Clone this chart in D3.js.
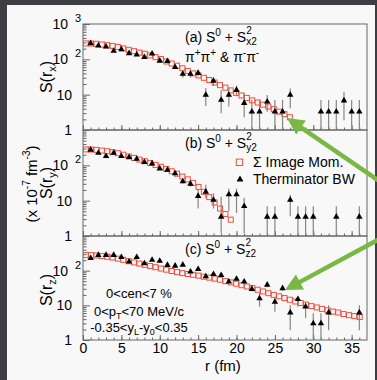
<!DOCTYPE html>
<html><head><meta charset="utf-8">
<script src="https://cdn.jsdelivr.net/npm/d3@7"></script>
<style>body{margin:0;background:#3c3e43;}svg{display:block}</style>
</head><body>
<svg id="c" width="377" height="380"></svg>
<script>
const FONT = "'Liberation Sans', Arial, Helvetica, sans-serif";

// ---------- data ----------
const xTicks = [0, 5, 10, 15, 20, 25, 30, 35];
const xMinor = [0,1,2,3,4,5,6,7,8,9,10,11,12,13,14,15,16,17,18,19,20,21,22,23,24,25,26,27,28,29,30,31,32,33,34,35,36];
const yDecades = [1, 10, 100, 1000];
const yMinor = [2,3,4,5,6,7,8,9,20,30,40,50,60,70,80,90,200,300,400,500,600,700,800,900];

// image-moment r grid
const rMom = [0.35,1.05,1.75,2.45,3.15,3.85,4.55,5.25,5.95,6.65,7.35,8.05,8.75,9.45,10.15,10.85,11.55,12.25,12.95,13.65,14.35,15.05,15.75,16.45,17.15,17.85,18.55,19.25,19.95,20.65,21.35,22.05,22.75,23.45,24.15,24.85,25.55,26.25,26.95,27.65,28.35,29.05,29.75,30.45,31.15,31.85,32.55,33.25,33.95,34.65,35.35,36.05];
const momA = [282,280,275,263,251,240,224,204,186,170,155,144,129,115,102,87,76,66,56,47,40,35,30,26,22,18.6,15.8,13.2,11.2,9.5,8.1,6.9,6.0,5.2,4.6,3.9,3.3,2.8,2.3];
const momB = [282,280,274,262,250,236,220,200,178,162,145,131,117,103,91,79,68,58,48,40,32,24.5,17.8,12.6,8.9,6.0,4.2,2.9];
const momC = [282,280,274,264,252,239,222,205,187,173,160,147,136,126,115,107,98,91,85,80,76,72,67,63,59,55,50,46,42,38,35,31.6,28.2,25.1,22.4,20.0,18.2,16.2,14.5,12.9,11.7,10.5,9.5,8.7,7.9,7.2,6.6,6.2,5.6,5.2,4.9,4.6];

// Therminator BW points
const triRA = [1,2,3,4,5,6,7,8,9,10,11,12,13,14,15,16,17,18,19,20,21,22,23,24,25,26,27,31,32,33,34,35,36];
const triVA = [284,244,229,172,192,148,136,115,144,91,89,60,38.5,38.5,41,9.8,24.4,7.1,9.8,13.5,5.8,3.3,3.3,6.3,3.3,3.3,9.8,3.3,3.3,3.3,6.8,3.3,3.3];
const triLoA = [272,233,218,163,182,140,128,108,135,84,81,52,30,30,33,4.8,18,3,4.6,9,2.3,0.1,0.1,3.3,0.1,0.1,4.1,0.1,0.1,0.1,1.9,0.1,0.1];
const triHiA = [296,255,240,181,202,156,144,122,153,98,97,69,48,48,50,15.5,31,13.5,15.5,18,11,7.1,7.1,9.8,7.1,7.1,15,7.1,7.1,7.1,12,7.1,7.1];

const triRB = [1,2,3,4,5,6,7,8,9,10,11,12,13,14,15,16,17,18,19,20,21,24,25,27,28,29,30,33,36];
const triVB = [275,224,182,224,182,170,151,123,112,81,74,59,35,30,13.5,17.8,10.5,3.5,15,15,7,3.5,3.5,10.5,3.5,3.5,3.5,3.5,3.5];
const triLoB = [263,214,173,214,173,161,143,116,105,75,68,53,30,25,6,11.7,6,1.2,5,4.5,1.2,0.1,0.1,3.6,0.1,0.1,0.1,0.1,0.1];
const triHiB = [287,234,191,234,191,179,159,130,119,87,80,65,40,35,20,28,16,13,22,22,12,6.9,6.9,14.8,6.9,6.9,6.9,6.9,6.9];

const triRC = [1,2,3,4,5,6,7,8,9,10,11,12,13,14,15,16,17,18,19,20,21,22,23,24,25,26,27,28,29,30,31,32,36];
const triVC = [229,282,282,282,245,182,245,162,204,190,145,138,148,93,110,68,79,74,48,58,48,29.5,15.8,39,12.6,31,6.2,15,9.1,3.0,3.0,6.2,6.2];
const triLoC = [220,271,271,271,235,175,235,155,196,182,138,131,140,88,104,63,74,69,44,53,44,25,9.1,33,6.5,26,1.9,9.1,4.3,0.1,0.1,1.9,1.9];
const triHiC = [238,293,293,293,255,189,255,169,212,198,152,145,156,98,116,73,84,79,52,63,52,35,22.7,46,17.8,37,10,17.8,12.7,5.9,5.9,10,10];

// ---------- drawing ----------
const svg = d3.select("#c");
svg.append("rect").attr("width",377).attr("height",380).attr("fill","#3c3e43");
svg.append("rect").attr("x",7).attr("y",5).attr("width",368).attr("height",375).attr("fill","#f8f8f8");

const RED = "#f04e3c", FRAME = "#666", ERR = "#8a857d";
const x = d3.scaleLinear().domain([0,37]).range([83,367]);

function rich(g, x0, y0, parts, anchor) {
  let cx = x0; const nodes = [];
  const mk = (q) => {
    const t = g.append("text").attr("x",cx).attr("y",y0+(q.dy||0))
      .attr("font-size",q.s).attr("font-family",FONT).attr("fill","#000").text(q.t);
    nodes.push(t); return t.node().getComputedTextLength();
  };
  parts.forEach(p => {
    if (p.stack) { let w = 0; p.stack.forEach(q => { w = Math.max(w, mk(q)); }); cx += w; }
    else cx += mk(p);
  });
  if (anchor) {
    const tot = cx - x0, sh = anchor === "middle" ? -tot/2 : -tot;
    nodes.forEach(n => n.attr("x", +n.attr("x") + sh));
  }
}
const NB = "\u00A0";

const panels = [
  {key:"a", top:24, bot:130, mom:momA, tr:triRA, tv:triVA, lo:triLoA, hi:triHiA, labels:[1000,100,10,1]},
  {key:"b", top:130, bot:236, mom:momB, tr:triRB, tv:triVB, lo:triLoB, hi:triHiB, labels:[100,10,1]},
  {key:"c", top:236, bot:340, mom:momC, tr:triRC, tv:triVC, lo:triLoC, hi:triHiC, labels:[100,10,1]}
];

panels.forEach((p, i) => {
  const y = d3.scaleLog().domain([1,1000]).range([p.bot, p.top]).clamp(true);
  const g = svg.append("g");
  const cid = "clip" + p.key;
  svg.append("clipPath").attr("id",cid).append("rect")
    .attr("x",x(0)).attr("y",p.top).attr("width",x(37)-x(0)).attr("height",p.bot-p.top);

  // ticks
  const ax1 = g.append("g").attr("transform",`translate(0,${p.bot})`)
    .call(d3.axisBottom(x).tickValues(xMinor).tickSize(-2.5).tickFormat(""));
  const ax2 = g.append("g").attr("transform",`translate(0,${p.bot})`)
    .call(d3.axisBottom(x).tickValues(xTicks).tickSize(-5).tickPadding(3)
      .tickFormat(p.key === "c" ? d => d : ""));
  const ay1 = g.append("g").attr("transform",`translate(${x(0)},0)`)
    .call(d3.axisLeft(y).tickValues(yMinor).tickSize(-3.5).tickFormat(""));
  const ay2 = g.append("g").attr("transform",`translate(${x(0)},0)`)
    .call(d3.axisLeft(y).tickValues(yDecades).tickSize(-7).tickFormat(""));
  [ax1,ax2,ay1,ay2].forEach(a => {
    a.select(".domain").remove();
    a.selectAll("line").attr("stroke",FRAME).attr("stroke-width",1);
    a.selectAll("text").attr("font-family",FONT).attr("font-size",14).attr("fill","#000");
  });

  // frame
  g.append("rect").attr("x",x(0)).attr("y",p.top).attr("width",x(37)-x(0)).attr("height",p.bot-p.top)
    .attr("fill","none").attr("stroke",FRAME).attr("stroke-width",1);

  // y labels
  p.labels.forEach(v => {
    const yy = y(v) + 5;
    if (v < 100) {
      g.append("text").attr("x",72).attr("y",yy).attr("text-anchor","end")
        .attr("font-family",FONT).attr("font-size",14).text(v);
    } else {
      g.append("text").attr("x",68).attr("y",yy).attr("text-anchor","end")
        .attr("font-family",FONT).attr("font-size",14).text("10");
      g.append("text").attr("x",75).attr("y",yy-7).attr("font-family",FONT)
        .attr("font-size",11).text(Math.round(Math.log10(v)));
    }
  });

  const m = g.append("g").attr("clip-path",`url(#${cid})`);
  // image moment squares
  m.selectAll("rect.mom").data(p.mom).join("rect").attr("class","mom")
    .attr("x",(d,k) => x(rMom[k]) - 2.5).attr("y",d => y(d) - 2.5)
    .attr("width",5).attr("height",5).attr("fill","none")
    .attr("stroke",RED).attr("stroke-width",1);
  // error bars
  m.selectAll("line.err").data(p.tv).join("line").attr("class","err")
    .attr("x1",(d,k) => x(p.tr[k])).attr("x2",(d,k) => x(p.tr[k]))
    .attr("y1",(d,k) => y(p.lo[k])).attr("y2",(d,k) => y(p.hi[k]))
    .attr("stroke",ERR).attr("stroke-width",1.2);
  // triangles
  const tri = d3.symbol(d3.symbolTriangle, 18);
  m.selectAll("path.tri").data(p.tv).join("path").attr("class","tri")
    .attr("d",tri).attr("transform",(d,k) => `translate(${x(p.tr[k])},${y(d)})`)
    .attr("fill","#000");
});

// y axis titles
const t1 = svg.append("g").attr("transform","translate(52,77) rotate(-90)");
rich(t1, 0, 0, [{t:"S(r",s:16},{t:"x",s:11,dy:4},{t:")",s:16}], "middle");
const t2 = svg.append("g").attr("transform","translate(52,183) rotate(-90)");
rich(t2, 0, 0, [{t:"S(r",s:16},{t:"y",s:11,dy:4},{t:")",s:16}], "middle");
const t2b = svg.append("g").attr("transform","translate(37,184) rotate(-90)");
rich(t2b, 0, 0, [{t:"(x"+NB+"10",s:15},{t:"-7",s:10,dy:-7},{t:NB+"fm",s:15},{t:"-3",s:10,dy:-7},{t:")",s:15}], "middle");
const t3 = svg.append("g").attr("transform","translate(52,290) rotate(-90)");
rich(t3, 0, 0, [{t:"S(r",s:16},{t:"z",s:11,dy:4},{t:")",s:16}], "middle");

// x title
svg.append("text").attr("x",205).attr("y",371).attr("font-family",FONT).attr("font-size",15).text("r (fm)");

// panel titles
const sub = ["x2","y2","z2"], tb = [42,148,254], nm = ["(a)","(b)","(c)"];
[0,1,2].forEach(i => {
  rich(svg, 185, tb[i], [
    {t:nm[i]+NB+"S",s:14},{t:"0",s:10,dy:-6},{t:NB+"+"+NB+"S",s:14},
    {stack:[{t:"2",s:10,dy:-8},{t:sub[i],s:10,dy:3}]}
  ]);
});
rich(svg, 185, 62, [
  {t:"π",s:14},{t:"+",s:10,dy:-6},{t:"π",s:14},{t:"+",s:10,dy:-6},
  {t:NB+"&"+NB+"π",s:14},{t:"-",s:10,dy:-6},{t:"π",s:14},{t:"-",s:10,dy:-6}
]);

// legend
svg.append("rect").attr("x",239.5-3.2).attr("y",162.3-3.2).attr("width",6.4).attr("height",6.4)
  .attr("fill","none").attr("stroke",RED).attr("stroke-width",1);
svg.append("path").attr("d",d3.symbol(d3.symbolTriangle,20)).attr("transform","translate(240,179.5)").attr("fill","#000");
svg.append("text").attr("x",253).attr("y",167).attr("font-family",FONT).attr("font-size",14).text("Σ Image Mom.");
svg.append("text").attr("x",253).attr("y",184).attr("font-family",FONT).attr("font-size",14).text("Therminator BW");

// cut text
rich(svg, 139, 297.5, [{t:"0<cen<7"+NB+"%",s:13}], "middle");
rich(svg, 139, 315.5, [{t:"0<p",s:13},{t:"T",s:9,dy:3},{t:"<70"+NB+"MeV/c",s:13}], "middle");
rich(svg, 139, 331.5, [{t:"-0.35<y",s:13},{t:"L",s:9,dy:3},{t:"-y",s:13},{t:"0",s:9,dy:3},{t:"<0.35",s:13}], "middle");

// green arrows
function arrow(tx, ty, hx, hy) {
  const dx = hx - tx, dy = hy - ty, L = Math.hypot(dx,dy), ux = dx/L, uy = dy/L;
  const HL = 17, HW = 8.5;
  const bx = hx - ux*HL, by = hy - uy*HL;
  svg.append("line").attr("x1",tx).attr("y1",ty).attr("x2",bx+ux*2).attr("y2",by+uy*2)
    .attr("stroke","#79b845").attr("stroke-width",4.5);
  svg.append("path").attr("d",`M${hx},${hy}L${bx-uy*HW},${by+ux*HW}L${bx+uy*HW},${by-ux*HW}Z`)
    .attr("fill","#79b845");
}
arrow(385, 185, 287, 118);
arrow(387, 235, 285, 290);
</script>
</body></html>
